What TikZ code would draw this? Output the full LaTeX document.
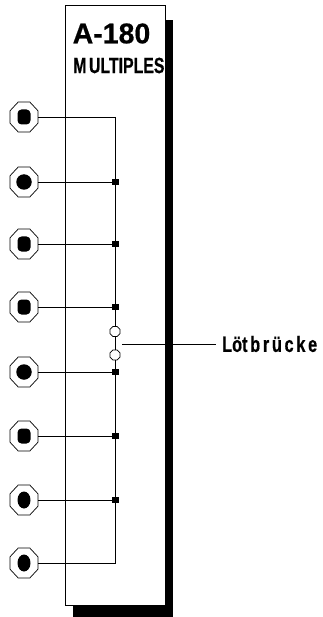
\documentclass[tikz,border=0pt]{standalone}
\usepackage{fontspec}
\setmainfont{Liberation Sans}
\newfontfamily\heavy[UprightFont=* Bold,FakeBold=0.6]{Liberation Sans}
\usetikzlibrary{shapes.geometric}
\tikzset{
  x=1pt,y=-1pt,
  wire/.style={draw=black,line width=0.8pt},
  shadowbar/.style={fill=black,draw=none},
  jackouter/.style={regular polygon,regular polygon sides=8,draw=black,line width=0.7pt,fill=white,minimum size=32.5pt,inner sep=0pt,xscale=0.93,transform shape},
  holesq/.style={rectangle,rounded corners=4pt,fill=black,draw=none,minimum width=13pt,minimum height=15pt,inner sep=0pt},
  holecirc/.style={circle,fill=black,draw=none,minimum size=15.5pt,inner sep=0pt},
  holeell/.style={ellipse,fill=black,draw=none,minimum width=13pt,minimum height=17pt,inner sep=0pt},
  joint/.style={rectangle,fill=black,draw=none,minimum size=6.5pt,inner sep=0pt},
  solder/.style={regular polygon,regular polygon sides=8,draw=black,line width=0.7pt,fill=white,minimum size=10.8pt,inner sep=0pt},
}
\begin{document}
\begin{tikzpicture}
\useasboundingbox (0,0) rectangle (322,617);
\fill[white] (0,0) rectangle (322,617);
\fill[shadowbar] (165.5,20.5) rectangle (173,617);
\fill[shadowbar] (72.5,605) rectangle (173,617);
\node[draw=black,line width=0.8pt,fill=white,minimum width=100pt,minimum height=600pt,inner sep=0pt] (panel) at (115.5,305) {};
\node[anchor=west,inner sep=0pt,font=\heavy\fontsize{28.5}{28.5}\selectfont] (title) at (72.5,33.5) {A-180};
\node[anchor=west,inner sep=0pt,font=\heavy\fontsize{22}{22}\selectfont] (sub) at (73,65.5) {\scalebox{0.72}[1]{M\,ULTIPLES}};
\foreach \n/\y/\h in {1/117/holesq,2/182/holecirc,3/244/holesq,4/307/holesq,5/372/holecirc,6/436/holesq,7/500/holeell,8/563/holeell}{
  \node[jackouter] (j\n) at (24,\y) {};
  \node[\h] at (24,\y) {};
  \coordinate (w\n) at (115.5,\y);
}
\foreach \n in {1,...,8}{ \draw[wire] (j\n.east) -- (w\n); }
\draw[wire] (w1) -- (w8);
\foreach \n in {2,...,7}{ \node[joint] at (w\n) {}; }
\node[solder] (s1) at (115,331.5) {};
\node[solder] (s2) at (115,355) {};
\node[anchor=west,inner ysep=0pt,inner xsep=6pt,font=\heavy\fontsize{22}{22}\selectfont] (lab) at (216,344) {\scalebox{0.74}[1]{Löt\,b\,r\,ü\,c\,k\,e}};
\coordinate (lstart) at (122,344);
\draw[wire] (lstart) -- (lab.west);
\end{tikzpicture}
\end{document}
